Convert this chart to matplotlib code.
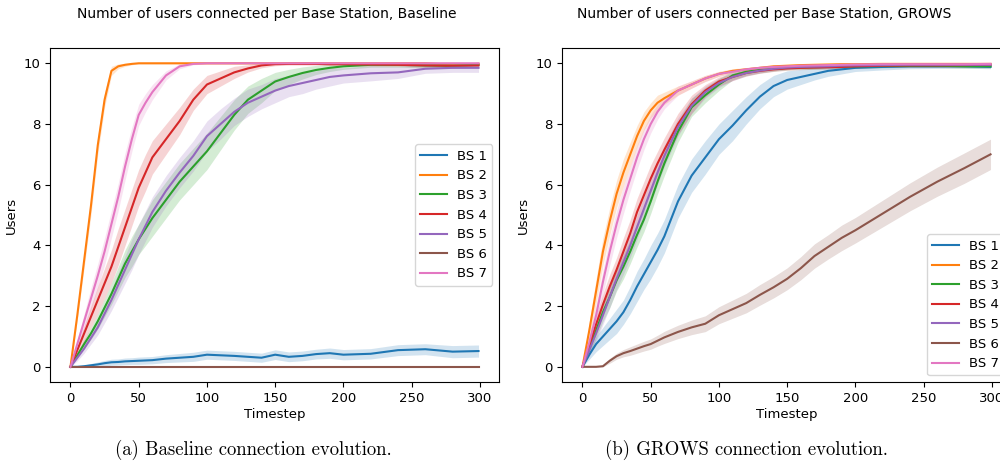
import matplotlib
matplotlib.use("Agg")
import matplotlib.pyplot as plt

timesteps = [0, 5, 10, 15, 20, 25, 30, 35, 40, 45, 50, 55, 60, 70, 80, 90, 100,
             110, 120, 130, 140, 150, 160, 170, 180, 190, 200, 220, 240, 260, 280, 299]
labels = ["BS 1", "BS 2", "BS 3", "BS 4", "BS 5", "BS 6", "BS 7"]

# Baseline: mean users per BS
base_bs1 = [0, 0, 0.02, 0.05, 0.08, 0.12, 0.15, 0.16, 0.18, 0.19, 0.2, 0.21, 0.22, 0.27, 0.3, 0.33, 0.4,
            0.38, 0.36, 0.33, 0.3, 0.4, 0.33, 0.36, 0.42, 0.45, 0.4, 0.43, 0.55, 0.58, 0.5, 0.52]
base_bs2 = [0, 1.7, 3.5, 5.3, 7.3, 8.8, 9.75, 9.9, 9.95, 9.98, 10, 10, 10, 10, 10, 10, 10,
            10, 10, 10, 10, 10, 10, 10, 10, 10, 10, 10, 10, 10, 9.95, 9.98]
base_bs3 = [0, 0.38, 0.75, 1.1, 1.5, 1.95, 2.4, 2.9, 3.4, 3.8, 4.2, 4.55, 4.9, 5.5, 6.1, 6.6, 7.1,
            7.7, 8.3, 8.8, 9.1, 9.4, 9.55, 9.68, 9.78, 9.85, 9.9, 9.95, 9.95, 9.93, 9.92, 9.95]
base_bs4 = [0, 0.55, 1.1, 1.65, 2.2, 2.75, 3.3, 3.95, 4.6, 5.25, 5.9, 6.4, 6.9, 7.5, 8.1, 8.8, 9.3,
            9.5, 9.7, 9.83, 9.93, 9.97, 9.98, 9.98, 9.98, 9.97, 9.97, 9.96, 9.95, 9.93, 9.92, 9.93]
base_bs5 = [0, 0.3, 0.6, 0.95, 1.3, 1.75, 2.2, 2.7, 3.2, 3.7, 4.2, 4.65, 5.1, 5.8, 6.4, 6.95, 7.6,
            8.0, 8.4, 8.7, 8.9, 9.1, 9.25, 9.35, 9.45, 9.55, 9.6, 9.67, 9.7, 9.82, 9.85, 9.85]
base_bs6 = [0] * 32
base_bs7 = [0, 0.75, 1.5, 2.25, 3.0, 3.8, 4.7, 5.6, 6.6, 7.5, 8.3, 8.7, 9.05, 9.6, 9.9, 9.98, 10,
            10, 10, 10, 10, 10, 10, 10, 10, 10, 10, 10, 10, 10, 10, 10]

# Baseline: half width of the confidence band
base_ci1 = [0, 0.02, 0.04, 0.06, 0.08, 0.09, 0.1, 0.1, 0.11, 0.11, 0.12, 0.12, 0.12, 0.13, 0.14, 0.15, 0.15,
            0.15, 0.15, 0.15, 0.15, 0.16, 0.16, 0.16, 0.16, 0.17, 0.17, 0.17, 0.18, 0.18, 0.2, 0.2]
base_ci2 = [0, 0.15, 0.25, 0.3, 0.3, 0.25, 0.15, 0.08, 0.05, 0.03, 0.02, 0.02, 0.02, 0.02, 0.02, 0.02, 0.02,
            0.02, 0.02, 0.02, 0.02, 0.02, 0.02, 0.02, 0.02, 0.02, 0.02, 0.02, 0.03, 0.05, 0.1, 0.05]
base_ci3 = [0, 0.1, 0.15, 0.2, 0.25, 0.3, 0.35, 0.4, 0.45, 0.5, 0.5, 0.55, 0.6, 0.6, 0.6, 0.6, 0.6,
            0.55, 0.5, 0.45, 0.4, 0.3, 0.25, 0.2, 0.15, 0.12, 0.1, 0.08, 0.08, 0.08, 0.08, 0.08]
base_ci4 = [0, 0.15, 0.25, 0.35, 0.45, 0.5, 0.55, 0.6, 0.6, 0.6, 0.6, 0.6, 0.55, 0.5, 0.45, 0.35, 0.3,
            0.25, 0.2, 0.12, 0.08, 0.05, 0.04, 0.04, 0.04, 0.04, 0.04, 0.05, 0.05, 0.06, 0.08, 0.06]
base_ci5 = [0, 0.1, 0.15, 0.2, 0.25, 0.3, 0.35, 0.4, 0.45, 0.5, 0.5, 0.5, 0.5, 0.5, 0.5, 0.5, 0.5,
            0.5, 0.45, 0.45, 0.4, 0.4, 0.35, 0.35, 0.3, 0.3, 0.25, 0.25, 0.2, 0.15, 0.15, 0.15]
base_ci6 = [0] * 32
base_ci7 = [0, 0.15, 0.25, 0.35, 0.4, 0.45, 0.45, 0.45, 0.45, 0.4, 0.35, 0.3, 0.25, 0.15, 0.08, 0.03, 0.02,
            0.02, 0.02, 0.02, 0.02, 0.02, 0.02, 0.02, 0.02, 0.02, 0.02, 0.02, 0.02, 0.02, 0.02, 0.02]

# GROWS: mean users per BS
grows_bs1 = [0, 0.4, 0.75, 1.0, 1.25, 1.5, 1.8, 2.2, 2.65, 3.05, 3.45, 3.85, 4.3, 5.45, 6.3, 6.9, 7.5,
             7.95, 8.45, 8.9, 9.25, 9.45, 9.55, 9.65, 9.75, 9.8, 9.85, 9.88, 9.9, 9.9, 9.9, 9.88]
grows_bs2 = [0, 1.2, 2.5, 3.8, 4.8, 5.7, 6.4, 7.0, 7.6, 8.1, 8.45, 8.7, 8.85, 9.1, 9.3, 9.5, 9.65,
             9.75, 9.8, 9.85, 9.9, 9.92, 9.94, 9.95, 9.96, 9.97, 9.97, 9.98, 9.98, 9.98, 9.98, 9.98]
grows_bs3 = [0, 0.6, 1.2, 1.8, 2.3, 2.85, 3.3, 3.8, 4.35, 4.85, 5.45, 6.1, 6.7, 7.75, 8.55, 8.95, 9.3,
             9.6, 9.72, 9.78, 9.82, 9.85, 9.86, 9.87, 9.88, 9.89, 9.9, 9.91, 9.92, 9.92, 9.9, 9.9]
grows_bs4 = [0, 0.7, 1.4, 2.05, 2.65, 3.2, 3.8, 4.4, 5.1, 5.65, 6.2, 6.7, 7.15, 8.0, 8.65, 9.1, 9.4,
             9.55, 9.68, 9.75, 9.8, 9.83, 9.85, 9.86, 9.87, 9.88, 9.9, 9.92, 9.93, 9.93, 9.94, 9.95]
grows_bs5 = [0, 0.55, 1.1, 1.7, 2.3, 2.9, 3.45, 4.0, 4.6, 5.2, 5.8, 6.4, 6.95, 7.9, 8.6, 9.05, 9.35,
             9.55, 9.68, 9.76, 9.82, 9.86, 9.88, 9.89, 9.9, 9.92, 9.93, 9.94, 9.95, 9.95, 9.95, 9.95]
grows_bs6 = [0, 0, 0, 0.02, 0.2, 0.35, 0.45, 0.52, 0.6, 0.68, 0.75, 0.86, 0.97, 1.15, 1.3, 1.42, 1.7,
             1.9, 2.1, 2.37, 2.62, 2.9, 3.25, 3.65, 3.95, 4.25, 4.5, 5.05, 5.6, 6.1, 6.55, 7.0]
grows_bs7 = [0, 0.8, 1.7, 2.8, 3.8, 4.7, 5.5, 6.2, 6.9, 7.5, 8.0, 8.4, 8.7, 9.1, 9.3, 9.5, 9.65,
             9.72, 9.8, 9.85, 9.88, 9.9, 9.92, 9.93, 9.94, 9.95, 9.96, 9.97, 9.97, 9.97, 9.97, 9.98]

# GROWS: half width of the confidence band
grows_ci1 = [0, 0.15, 0.25, 0.3, 0.35, 0.4, 0.4, 0.45, 0.5, 0.5, 0.55, 0.55, 0.55, 0.55, 0.55, 0.55, 0.5,
             0.5, 0.45, 0.4, 0.35, 0.3, 0.25, 0.2, 0.18, 0.15, 0.12, 0.1, 0.08, 0.07, 0.06, 0.06]
grows_ci2 = [0, 0.3, 0.4, 0.45, 0.45, 0.45, 0.45, 0.4, 0.35, 0.3, 0.25, 0.25, 0.2, 0.15, 0.12, 0.1, 0.08,
             0.07, 0.06, 0.05, 0.04, 0.04, 0.03, 0.03, 0.03, 0.03, 0.03, 0.03, 0.03, 0.03, 0.03, 0.03]
grows_ci3 = [0, 0.2, 0.25, 0.3, 0.35, 0.35, 0.4, 0.4, 0.4, 0.4, 0.4, 0.4, 0.4, 0.35, 0.3, 0.25, 0.2,
             0.15, 0.12, 0.1, 0.08, 0.07, 0.06, 0.06, 0.06, 0.06, 0.06, 0.06, 0.06, 0.06, 0.06, 0.06]
grows_ci4 = [0, 0.2, 0.3, 0.35, 0.4, 0.4, 0.45, 0.45, 0.45, 0.45, 0.45, 0.4, 0.4, 0.35, 0.3, 0.2, 0.15,
             0.12, 0.1, 0.08, 0.07, 0.06, 0.06, 0.06, 0.06, 0.06, 0.06, 0.06, 0.06, 0.06, 0.06, 0.06]
grows_ci5 = [0, 0.2, 0.25, 0.3, 0.35, 0.35, 0.4, 0.4, 0.4, 0.4, 0.4, 0.4, 0.35, 0.3, 0.25, 0.2, 0.15,
             0.12, 0.1, 0.08, 0.07, 0.06, 0.06, 0.06, 0.06, 0.06, 0.06, 0.06, 0.06, 0.06, 0.06, 0.06]
grows_ci6 = [0, 0, 0, 0.02, 0.08, 0.1, 0.12, 0.14, 0.15, 0.16, 0.17, 0.18, 0.2, 0.22, 0.24, 0.26, 0.28,
             0.3, 0.32, 0.34, 0.35, 0.36, 0.38, 0.4, 0.4, 0.42, 0.42, 0.44, 0.46, 0.48, 0.5, 0.5]
grows_ci7 = [0, 0.25, 0.35, 0.4, 0.45, 0.45, 0.45, 0.4, 0.4, 0.35, 0.3, 0.25, 0.2, 0.15, 0.12, 0.1, 0.08,
             0.07, 0.06, 0.05, 0.05, 0.04, 0.04, 0.04, 0.04, 0.04, 0.04, 0.04, 0.04, 0.04, 0.04, 0.04]

base_means = [base_bs1, base_bs2, base_bs3, base_bs4, base_bs5, base_bs6, base_bs7]
base_cis = [base_ci1, base_ci2, base_ci3, base_ci4, base_ci5, base_ci6, base_ci7]
grows_means = [grows_bs1, grows_bs2, grows_bs3, grows_bs4, grows_bs5, grows_bs6, grows_bs7]
grows_cis = [grows_ci1, grows_ci2, grows_ci3, grows_ci4, grows_ci5, grows_ci6, grows_ci7]

colors = plt.rcParams['axes.prop_cycle'].by_key()['color']


def draw_panel(ax, means, cis, legend_loc):
    for i, (m, c) in enumerate(zip(means, cis)):
        lo = [a - b for a, b in zip(m, c)]
        hi = [a + b for a, b in zip(m, c)]
        ax.fill_between(timesteps, lo, hi, color=colors[i], alpha=0.2, linewidth=0)
        ax.plot(timesteps, m, color=colors[i], linewidth=1.5, label=labels[i])
    ax.set_xlim(-15, 314)
    ax.set_ylim(-0.5, 10.5)
    ax.set_xticks([0, 50, 100, 150, 200, 250, 300])
    ax.set_yticks([0, 2, 4, 6, 8, 10])
    ax.tick_params(labelsize=9.5)
    ax.set_xlabel('Timestep', fontsize=9.5, labelpad=2)
    ax.set_ylabel('Users', fontsize=9.5)
    ax.legend(loc=legend_loc, fontsize=9.5)


fig = plt.figure(figsize=(10, 4.67), dpi=100)
ax1 = fig.add_axes([0.05, 0.182, 0.449, 0.715])
ax2 = fig.add_axes([0.562, 0.182, 0.449, 0.715])

draw_panel(ax1, base_means, base_cis, 'center right')
draw_panel(ax2, grows_means, grows_cis, 'lower right')

fig.text(0.267, 0.97, 'Number of users connected per Base Station, Baseline',
         ha='center', va='center', fontsize=10)
fig.text(0.764, 0.97, 'Number of users connected per Base Station, GROWS',
         ha='center', va='center', fontsize=10)
fig.text(0.253, 0.036, '(a) Baseline connection evolution.',
         ha='center', va='center', fontsize=13.5, family='cmr10')
fig.text(0.746, 0.036, '(b) GROWS connection evolution.',
         ha='center', va='center', fontsize=13.5, family='cmr10')

fig.savefig('out.png', dpi=100)
